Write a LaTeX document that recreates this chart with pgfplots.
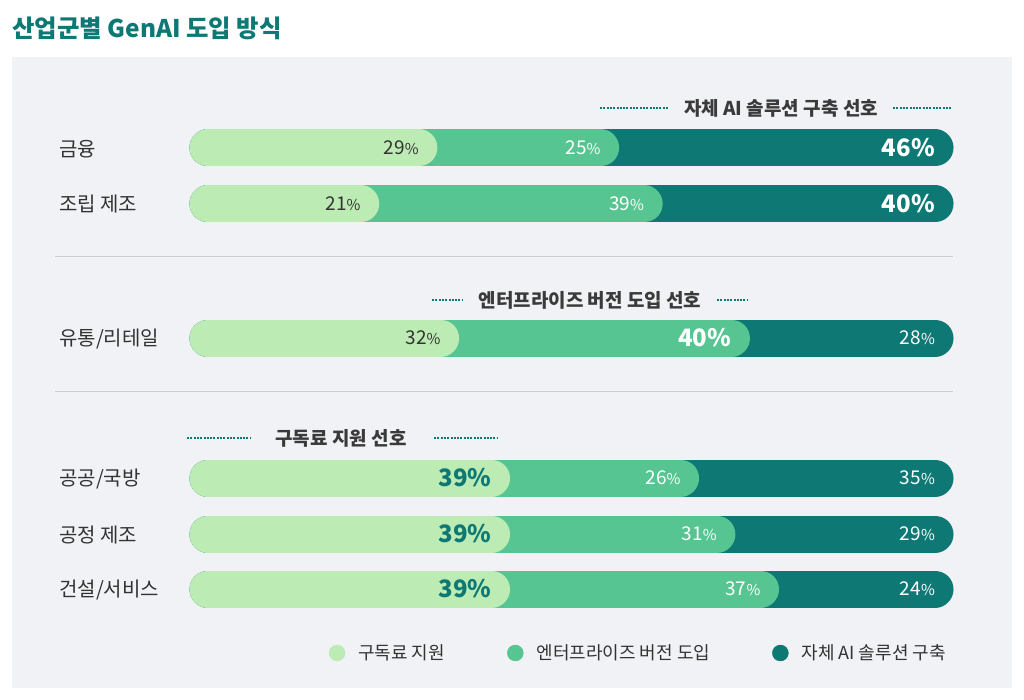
\documentclass[border=0pt]{standalone}
\usepackage{pgfplots}
\pgfplotsset{compat=1.18}
\usepackage{fontspec}
\setmainfont{Noto Sans CJK KR}
\definecolor{csub}{HTML}{BDEBB4}
\definecolor{cent}{HTML}{57C592}
\definecolor{cown}{HTML}{0D7874}
\definecolor{panel}{HTML}{F1F2F6}
\definecolor{sepc}{HTML}{CCCED6}
\definecolor{txt}{HTML}{333333}
\definecolor{hdr}{HTML}{3A3A3A}
\newcommand{\fs}[1]{\fontsize{#1}{#1}\selectfont}
\newcommand{\pc}[1]{#1{\fs{15}\%}}
\newcommand{\bigpc}[1]{{\fs{24}\bfseries #1\%}}
\begin{document}
\begin{tikzpicture}
\begin{scope}[x=1pt,y=-1pt,yshift=700pt]
\fill[white] (0,0) rectangle (1024,700);
\fill[panel] (12,57) rectangle (1012,688);
\draw[sepc, line width=1pt] (55,257) -- (953,257);
\draw[sepc, line width=1pt] (55,392) -- (953,392);
\node[anchor=west, text=cown, font=\fs{24.4}\bfseries, inner sep=0pt] at (12,28) {산업군별 GenAI 도입 방식};
\end{scope}
\begin{axis}[at={(0pt,0pt)}, anchor=south west, scale only axis,
  width=1024pt, height=700pt,
  xmin=-28.611, xmax=112.242, ymin=0, ymax=700, y dir=reverse,
  hide axis, clip=false,
  legend columns=3,
  legend style={at={(axis cs:16.6,653)}, anchor=west, draw=none, fill=none,
    font=\fs{18}, text=txt, inner sep=0pt,
    /tikz/every even column/.append style={column sep=60pt},
    /tikz/every odd column/.append style={column sep=11pt}},
  bar/.style={line width=37pt, line cap=round},
]
% legend
\addlegendimage{legend image code/.code={\fill[csub] (8pt,0pt) circle (8pt);}}
\addlegendentry{구독료 지원}
\addlegendimage{legend image code/.code={\fill[cent] (8pt,0pt) circle (8pt);}}
\addlegendentry{엔터프라이즈 버전 도입}
\addlegendimage{legend image code/.code={\fill[cown] (8pt,0pt) circle (8pt);}}
\addlegendentry{자체 AI 솔루션 구축}
% 금융: 29 / 25 / 46
\addplot[bar, cown, forget plot] coordinates {(0,148) (100,148)};
\addplot[bar, cent, forget plot] coordinates {(0,148) (54,148)};
\addplot[bar, csub, forget plot] coordinates {(0,148) (29,148)};
% 조립 제조: 21 / 39 / 40
\addplot[bar, cown, forget plot] coordinates {(0,204) (100,204)};
\addplot[bar, cent, forget plot] coordinates {(0,204) (60,204)};
\addplot[bar, csub, forget plot] coordinates {(0,204) (21,204)};
% 유통/리테일: 32 / 40 / 28
\addplot[bar, cown, forget plot] coordinates {(0,338) (100,338)};
\addplot[bar, cent, forget plot] coordinates {(0,338) (72,338)};
\addplot[bar, csub, forget plot] coordinates {(0,338) (32,338)};
% 공공/국방: 39 / 26 / 35
\addplot[bar, cown, forget plot] coordinates {(0,478) (100,478)};
\addplot[bar, cent, forget plot] coordinates {(0,478) (65,478)};
\addplot[bar, csub, forget plot] coordinates {(0,478) (39,478)};
% 공정 제조: 39 / 31 / 29
\addplot[bar, cown, forget plot] coordinates {(0,534) (100,534)};
\addplot[bar, cent, forget plot] coordinates {(0,534) (70,534)};
\addplot[bar, csub, forget plot] coordinates {(0,534) (39,534)};
% 건설/서비스: 39 / 37 / 24
\addplot[bar, cown, forget plot] coordinates {(0,589) (100,589)};
\addplot[bar, cent, forget plot] coordinates {(0,589) (76,589)};
\addplot[bar, csub, forget plot] coordinates {(0,589) (39,589)};
% value labels
\tikzset{vl/.style={anchor=east, inner sep=0pt, font=\fs{19}}}
\node[vl, text=txt] at (axis cs:29,148) {\pc{29}};
\node[vl, text=white] at (axis cs:54,148) {\pc{25}};
\node[vl, text=white] at (axis cs:100,148) {\bigpc{46}};
\node[vl, text=txt] at (axis cs:21,204) {\pc{21}};
\node[vl, text=white] at (axis cs:60,204) {\pc{39}};
\node[vl, text=white] at (axis cs:100,204) {\bigpc{40}};
\node[vl, text=txt] at (axis cs:32,338) {\pc{32}};
\node[vl, text=white] at (axis cs:72,338) {\bigpc{40}};
\node[vl, text=white] at (axis cs:100,338) {\pc{28}};
\node[vl, text=cown] at (axis cs:39,478) {\bigpc{39}};
\node[vl, text=white] at (axis cs:65,478) {\pc{26}};
\node[vl, text=white] at (axis cs:100,478) {\pc{35}};
\node[vl, text=cown] at (axis cs:39,534) {\bigpc{39}};
\node[vl, text=white] at (axis cs:70,534) {\pc{31}};
\node[vl, text=white] at (axis cs:100,534) {\pc{29}};
\node[vl, text=cown] at (axis cs:39,589) {\bigpc{39}};
\node[vl, text=white] at (axis cs:76,589) {\pc{37}};
\node[vl, text=white] at (axis cs:100,589) {\pc{24}};
\end{axis}
\begin{scope}[x=1pt,y=-1pt,yshift=700pt]
\tikzset{cat/.style={anchor=west, inner sep=0pt, font=\fs{20}, text=txt},
  hd/.style={inner sep=0pt, font=\fs{19}\bfseries, text=hdr},
  dl/.style={cown, line width=2.2pt, dash pattern=on 2pt off 1.3pt}}
\node[cat] at (59,149) {금융};
\node[cat] at (59,204) {조립 제조};
\node[cat] at (59,339) {유통/리테일};
\node[cat] at (59,479) {공공/국방};
\node[cat] at (59,535) {공정 제조};
\node[cat] at (59,590) {건설/서비스};
\node[hd] at (781,108) {자체 AI 솔루션 구축 선호};
\draw[dl] (600,108) -- (668,108);
\draw[dl] (893,108) -- (951,108);
\node[hd] at (590,300) {엔터프라이즈 버전 도입 선호};
\draw[dl] (432,300) -- (462,300);
\draw[dl] (717,300) -- (747,300);
\node[hd] at (341,438) {구독료 지원 선호};
\draw[dl] (187,438) -- (250,438);
\draw[dl] (434,438) -- (498,438);
\end{scope}
\end{tikzpicture}
\end{document}
